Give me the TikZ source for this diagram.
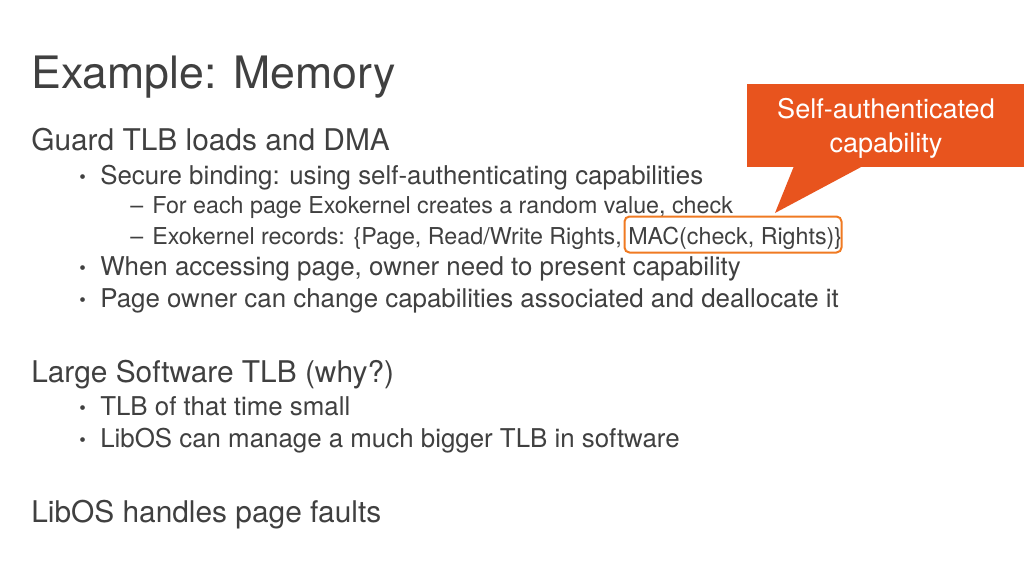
\documentclass[tikz,border=0pt]{standalone}
\usepackage{fontspec}
\setmainfont{TeX Gyre Heros}
\definecolor{txt}{HTML}{404040}
\definecolor{calloutfill}{HTML}{E8541E}
\definecolor{boxline}{HTML}{F07A22}
\begin{document}
\begin{tikzpicture}[x=0.75pt,y=-0.75pt,
  line/.style={anchor=base west,inner sep=0pt,text=txt},
  title/.style={line,font=\fontsize{33.5}{40}\selectfont},
  head/.style={line,font=\fontsize{22.4}{27}\selectfont},
  lvlone/.style={line,font=\fontsize{19.4}{23}\selectfont},
  lvltwo/.style={line,font=\fontsize{17.45}{21}\selectfont},
  bul/.style={anchor=base west,inner sep=0pt,text=txt,font=\fontsize{14}{16}\selectfont},
  callouttext/.style={text=white,align=center,font=\fontsize{20.3}{25.5}\selectfont,inner sep=0pt},
]
\useasboundingbox (0,0) rectangle (1024,576);
\fill[white] (0,0) rectangle (1024,576);

% Title
\node[title] (t) at (31,88) {Example: Memory};

% Section 1
\node[head] (h1) at (31,150) {Guard TLB loads and DMA};
\node[bul] (b1) at (79,183) {•};
\node[lvlone] (l1) at (100,184) {Secure binding: using self-authenticating capabilities};
\node[lvltwo] (d1) at (130,213) {–};
\node[lvltwo] (l2) at (152,213) {For each page Exokernel creates a random value, check};
\node[lvltwo] (d2) at (130,244) {–};
\node[lvltwo] (l3) at (152,244) {Exokernel records: \{Page, Read/Write Rights, MAC(check, Rights)\}};
\node[bul] (b2) at (79,274) {•};
\node[lvlone] (l4) at (100,275) {When accessing page, owner need to present capability};
\node[bul] (b3) at (79,306) {•};
\node[lvlone] (l5) at (100,307) {Page owner can change capabilities associated and deallocate it};

% Section 2
\node[head] (h2) at (31,382) {Large Software TLB (why?)};
\node[bul] (b4) at (79,414) {•};
\node[lvlone] (l6) at (100,415) {TLB of that time small};
\node[bul] (b5) at (79,446) {•};
\node[lvlone] (l7) at (100,447) {LibOS can manage a much bigger TLB in software};

% Section 3
\node[head] (h3) at (31,522) {LibOS handles page faults};

% Highlight box
\node[draw=boxline,line width=1.5pt,rounded corners=3.75pt,minimum width=162.75pt,minimum height=27pt,inner sep=0pt] (mac) at (733,234.5) {};

% Callout
\node[fill=calloutfill,minimum width=208pt,minimum height=62.25pt,inner sep=0pt] (callout) at (885.5,125.5) {};
\node[callouttext] (ct) at (886,128) {Self-authenticated\\capability};
\coordinate (pl) at (794,166);
\coordinate (pr) at (863,166);
\coordinate (tip) at (775,213);
\fill[calloutfill] (pl) -- (tip) -- (pr) -- cycle;
\end{tikzpicture}
\end{document}
